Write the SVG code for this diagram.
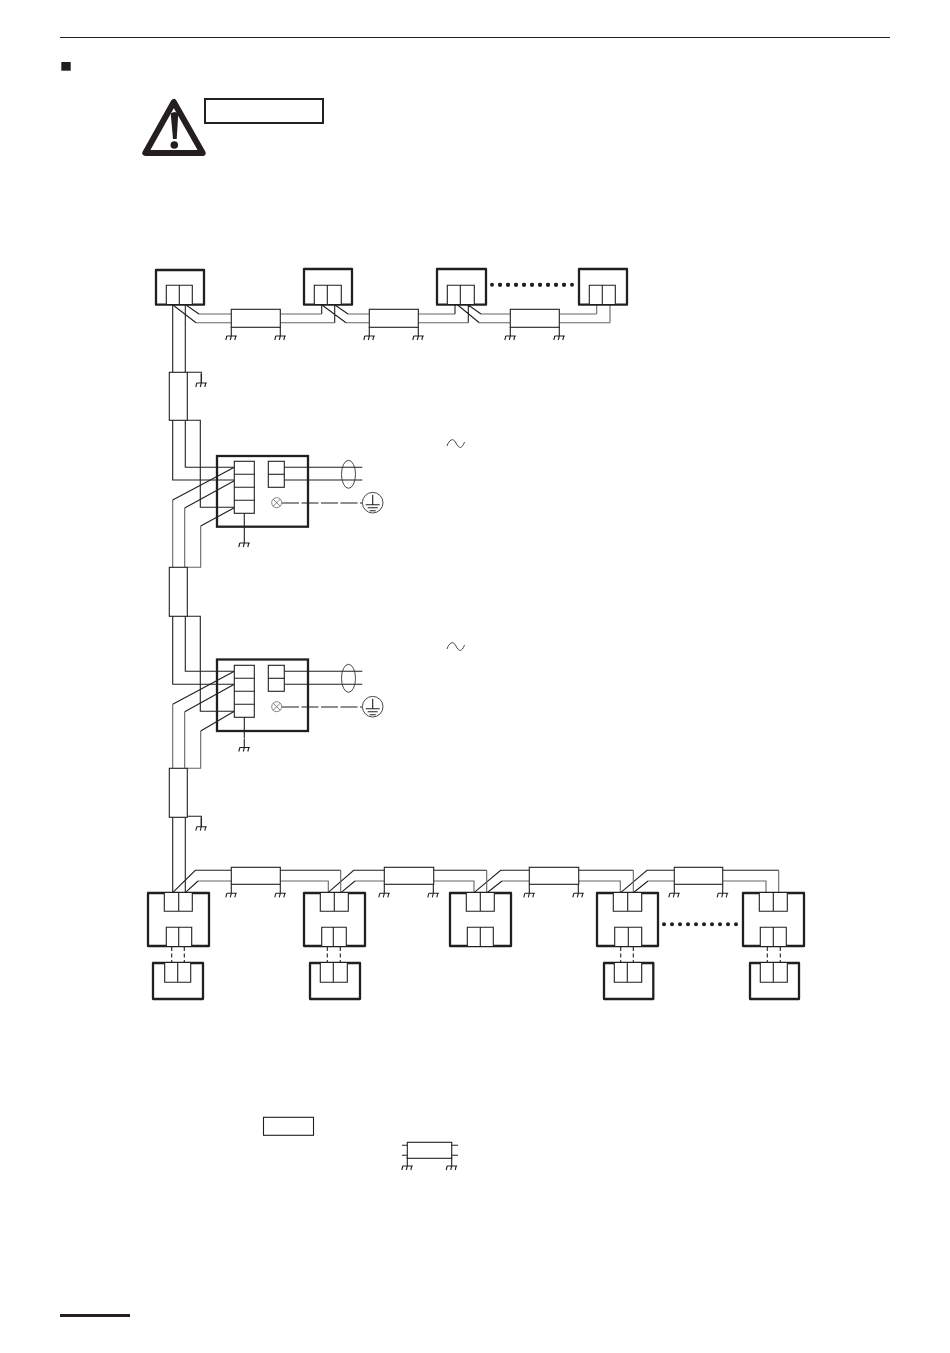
<svg xmlns="http://www.w3.org/2000/svg" xmlns:xlink="http://www.w3.org/1999/xlink" width="950" height="1353" viewBox="0 0 950 1353">
<style>
.bg{fill:#fff}
.box{fill:#fff;stroke:#231f20;stroke-width:2.300;stroke-linejoin:round}
.t{fill:#fff;stroke:#231f20;stroke-width:1.100}
.f{fill:#fff;stroke:#231f20;stroke-width:1.100}
.w{fill:none;stroke:#231f20;stroke-width:1.100}
.g{fill:none;stroke:#666;stroke-width:1.100}
.th{fill:none;stroke:#333;stroke-width:.9}
.lg{fill:none;stroke:#666;stroke-width:.8}
.d{fill:none;stroke:#231f20;stroke-width:1.100;stroke-dasharray:4 2.500}
.ld{fill:none;stroke:#231f20;stroke-width:1.100;stroke-dasharray:17 2.500}
.dot{fill:#231f20}
</style>
<defs>
<g id="gnd"><path class="w" d="M0 0V9M-4.500 9H5.500M-5.500 13L-4.500 9M-1 13L0 9M3.500 13L4.500 9"/></g>
<g id="dots8" class="dot"><circle cx="0" cy="0" r="2"/><circle cx="8" cy="0" r="2"/><circle cx="16" cy="0" r="2"/><circle cx="24" cy="0" r="2"/><circle cx="32" cy="0" r="2"/><circle cx="40" cy="0" r="2"/><circle cx="48" cy="0" r="2"/><circle cx="56" cy="0" r="2"/><circle cx="64" cy="0" r="2"/><circle cx="72" cy="0" r="2"/></g>
<g id="earth"><circle class="th" cx="0" cy="0" r="10.300"/><path class="w" d="M0 -8V2M-7 2H7M-5 5H5M-3 8H3"/></g>
<g id="lug"><circle class="lg" cx="0" cy="0" r="5"/><path class="lg" d="M-3.500 -3.500L3.500 3.500M-3.500 3.500L3.500 -3.500"/></g>
<path id="tilde" class="th" d="M0 3C2 -3 6 -6 9 0S15 6 17.500 -1"/>
</defs>
<rect class="bg" width="950" height="1353"/>

<g id="page">
<path d="M60 37.500H890" stroke="#231f20" stroke-width="1" fill="none"/>
<rect x="61.300" y="62" width="9.400" height="8.700" fill="#231f20"/>
<path d="M60 1315.500H130" stroke="#231f20" stroke-width="3" fill="none"/>
</g>

<g id="warning">
<path d="M173.800 102L145.300 153H202.700Z" fill="#fff" stroke="#231f20" stroke-width="6" stroke-linejoin="round"/>
<path d="M170.700 113.500Q174.500 110.500 178.300 113.500L176.700 139H173Z" fill="#231f20"/>
<circle cx="174.300" cy="145" r="3.800" fill="#231f20"/>
<rect x="205" y="99" width="118" height="24" fill="#fff" stroke="#231f20" stroke-width="2"/>
</g>

<g id="connectors">
<path class="g" d="M199 314H231M196 322.700H231M280 314H321.700M280 322.700H334.700M348 314H369.500M346 322.700H369.500M418 314H455M418 322.700H468.300M481 314H510M479.300 322.700H510M559 314H596.700M559 322.700H610"/>
<path class="w" d="M173 305L196 322.700M186 305L199 314M322 305L346 322.700M335 305L348 314M457.700 305L479.300 322.700M468.300 305L481 314M321.700 314V305M334.700 322.700V305M455 314V305M468.300 322.700V305"/>
<path class="g" d="M596.700 314V304M610 322.700V304"/>
<path class="w" d="M172.700 305V372M185.300 305V372M187.300 372.300H201.300V383M172.700 420V480H234M185.300 420V467.300H234M187 420.300H200.300V507.300H234"/>
<path class="w" d="M234.300 467.300L172.700 500M234.300 480.700L184.700 508M234.300 507.700L200.700 526M234.300 671.300L172.700 704.300M234.300 684.300L184.700 711.700M234.300 711.300L200.700 731"/>
<path class="g" d="M172.700 500V567M184.700 508V567M200.700 526V567.300H187M172.700 704.300V768M184.700 711.700V768M200.700 731V768.300H187"/>
<path class="w" d="M172.700 616V684.300H234M185.300 616V671.300H234M187 616.300H200.300V711.300H234M187.300 816.300H201.300V826.700M172.700 817V893M185.300 817V893"/>
<path class="w" d="M284 467.300H362.300M284 480H362.300M284 671.300H362.300M284 684.300H362.300M244.300 513V534M244.300 717V738"/>
<path class="ld" d="M282 503H362M282 707H362"/>
<path class="w" d="M172.700 892.700L195.300 870.300H231M185.300 892.700L198 881M280 870.300H340.700M328 892.700L353.700 870.300H384.300M341 892.700L355 881M433.700 870.300H486.700M474 892.700L500.700 870.300H529M487 892.700L502 881M578.700 870.300H633.300M620.700 892.700L647 870.300H674.300M633.300 892.700L648 881M722.700 870.300H778.700"/>
<path class="g" d="M198 881H231M280 881H328.300V892.700M340.700 870.300V892.700M355 881H384.300M433.700 881H474V892.700M486.700 870.300V892.700M502 881H529M578.700 881H620.300V892.700M633.300 870.300V892.700M648 881H674.300M722.700 881H766V892.700M778.700 870.300V892.700"/>
<path class="d" d="M171.700 947V963M184.300 947V963M327.300 947V963M340.300 947V963M620.700 947V963M633.300 947V963M767.300 947V963M780.300 947V963"/>
</g>

<g id="grounds">
<use xlink:href="#gnd" href="#gnd" x="231.300" y="327"/>
<use xlink:href="#gnd" href="#gnd" x="280.300" y="327"/>
<use xlink:href="#gnd" href="#gnd" x="369.300" y="327"/>
<use xlink:href="#gnd" href="#gnd" x="418.300" y="327"/>
<use xlink:href="#gnd" href="#gnd" x="510.300" y="327"/>
<use xlink:href="#gnd" href="#gnd" x="559.300" y="327"/>
<use xlink:href="#gnd" href="#gnd" x="201.300" y="374"/>
<use xlink:href="#gnd" href="#gnd" x="244.300" y="534"/>
<use xlink:href="#gnd" href="#gnd" x="244.300" y="738.500"/>
<use xlink:href="#gnd" href="#gnd" x="201.300" y="817.700"/>
<use xlink:href="#gnd" href="#gnd" x="231.300" y="884.300"/>
<use xlink:href="#gnd" href="#gnd" x="280.300" y="884.300"/>
<use xlink:href="#gnd" href="#gnd" x="384.300" y="884.300"/>
<use xlink:href="#gnd" href="#gnd" x="433.300" y="884.300"/>
<use xlink:href="#gnd" href="#gnd" x="529.300" y="884.300"/>
<use xlink:href="#gnd" href="#gnd" x="578.300" y="884.300"/>
<use xlink:href="#gnd" href="#gnd" x="674.300" y="884.300"/>
<use xlink:href="#gnd" href="#gnd" x="722.700" y="884.300"/>
</g>

<g id="top-unit-1"><rect class="box" x="156" y="270" width="48" height="34.700"/><path class="t" d="M166.300 304V285.300H192.300V304M179.300 285.300V304"/></g>
<g id="top-unit-2"><rect class="box" x="304" y="269" width="48" height="35.700"/><path class="t" d="M314.300 304V285.300H341.300V304M327.300 285.300V304"/></g>
<g id="top-unit-3"><rect class="box" x="437" y="269" width="49" height="35.700"/><path class="t" d="M447.300 304V285.300H474.300V304M460.300 285.300V304"/></g>
<g id="top-unit-4"><rect class="box" x="579" y="269" width="48" height="35.700"/><path class="t" d="M589.300 304V285.300H615.300V304M602.300 285.300V304"/></g>
<use id="top-dots" xlink:href="#dots8" href="#dots8" x="492" y="284.700"/>
<use xlink:href="#dots8" href="#dots8" x="500" y="284.700"/>

<g id="filter-top-1"><rect class="f" x="231.300" y="309.300" width="49" height="18"/></g>
<g id="filter-top-2"><rect class="f" x="369.300" y="309.300" width="49" height="18"/></g>
<g id="filter-top-3"><rect class="f" x="510.300" y="309.300" width="49" height="18"/></g>
<g id="filter-v-1"><rect class="f" x="169.300" y="372.300" width="18" height="48"/></g>
<g id="filter-v-2"><rect class="f" x="169.300" y="567.300" width="18" height="49"/></g>
<g id="filter-v-3"><rect class="f" x="169.300" y="768.300" width="18" height="49"/></g>
<g id="filter-bottom-1"><rect class="f" x="231.300" y="867.300" width="49" height="17"/></g>
<g id="filter-bottom-2"><rect class="f" x="384.300" y="867.300" width="49.400" height="17"/></g>
<g id="filter-bottom-3"><rect class="f" x="529.300" y="867.300" width="49.400" height="17"/></g>
<g id="filter-bottom-4"><rect class="f" x="674.300" y="867.300" width="48.400" height="17"/></g>

<g id="outdoor-1">
<rect x="217" y="456" width="91" height="70.700" fill="none" stroke="#231f20" stroke-width="2.300"/>
<rect class="t" x="234.300" y="461.300" width="20" height="52"/><path class="w" d="M234.300 474.300H254.300M234.300 487.300H254.300M234.300 500.300H254.300"/>
<rect class="t" x="268.300" y="461.300" width="16" height="26"/><path class="w" d="M268.300 474.300H284.300"/>
<ellipse class="th" cx="348.500" cy="474.300" rx="7" ry="14"/>
<use xlink:href="#lug" href="#lug" x="276.700" y="502.700"/>
<use xlink:href="#earth" href="#earth" x="372.700" y="502.700"/>
<use xlink:href="#tilde" href="#tilde" x="447" y="443"/>
</g>
<g id="outdoor-2">
<rect x="217" y="659.500" width="91" height="71.500" fill="none" stroke="#231f20" stroke-width="2.300"/>
<rect class="t" x="234.300" y="665.300" width="20" height="52"/><path class="w" d="M234.300 678.300H254.300M234.300 691.300H254.300M234.300 704.300H254.300"/>
<rect class="t" x="268.300" y="665.300" width="16" height="26"/><path class="w" d="M268.300 678.300H284.300"/>
<ellipse class="th" cx="348.500" cy="678.300" rx="7" ry="14"/>
<use xlink:href="#lug" href="#lug" x="276.700" y="706.700"/>
<use xlink:href="#earth" href="#earth" x="372.700" y="706.700"/>
<use xlink:href="#tilde" href="#tilde" x="447" y="646"/>
</g>

<g id="indoor-1"><rect class="box" x="148" y="893" width="61" height="53"/><path class="t" d="M164.300 893V911.300H192.300V893M178.700 893V911.300M166.300 946V927.300H191.700V946M178.700 927.300V946"/></g>
<g id="indoor-2"><rect class="box" x="304" y="893" width="61" height="53"/><path class="t" d="M320.300 893V911.300H348.300V893M334.300 893V911.300M321.700 946V927.300H346.300V946M333.300 927.300V946"/></g>
<g id="indoor-3"><rect class="box" x="450" y="893" width="61" height="53"/><path class="t" d="M466.300 893V911.300H494.300V893M480.300 893V911.300M467.300 946V927.300H493.300V946M480.300 927.300V946"/></g>
<g id="indoor-4"><rect class="box" x="597" y="893" width="61" height="53"/><path class="t" d="M613.300 893V911.300H641.700V893M627.700 893V911.300M614.700 946V927.300H641.700V946M628.300 927.300V946"/></g>
<g id="indoor-5"><rect class="box" x="743" y="893" width="61" height="53"/><path class="t" d="M759.300 893V911.300H787.300V893M773.300 893V911.300M760.300 946V927.300H786.300V946M773.300 927.300V946"/></g>
<use id="bottom-dots" xlink:href="#dots8" href="#dots8" x="664" y="924.300"/>

<g id="remote-1"><rect class="box" x="153" y="963" width="50" height="36"/><path class="t" d="M164.700 963V982.300H190.700V963M177.700 963V982.300"/></g>
<g id="remote-2"><rect class="box" x="310" y="963" width="50" height="36"/><path class="t" d="M320.300 963V982.300H347.300V963M333.300 963V982.300"/></g>
<g id="remote-4"><rect class="box" x="604" y="963" width="49.300" height="36"/><path class="t" d="M614.300 963V982.300H641.700V963M627.300 963V982.300"/></g>
<g id="remote-5"><rect class="box" x="750" y="963" width="49" height="36"/><path class="t" d="M760.300 963V982.300H787.300V963M773.300 963V982.300"/></g>

<g id="legend">
<rect class="f" x="263.500" y="1117.300" width="50" height="18"/>
<rect class="f" x="407.300" y="1142.300" width="44.400" height="16"/>
<path class="w" d="M402 1145.300H407.300M402 1155.300H407.300M451.700 1145.300H458M451.700 1155.300H458"/>
<use xlink:href="#gnd" href="#gnd" transform="translate(407.300 1157)"/>
<use xlink:href="#gnd" href="#gnd" transform="translate(451.700 1157)"/>
</g>
</svg>
